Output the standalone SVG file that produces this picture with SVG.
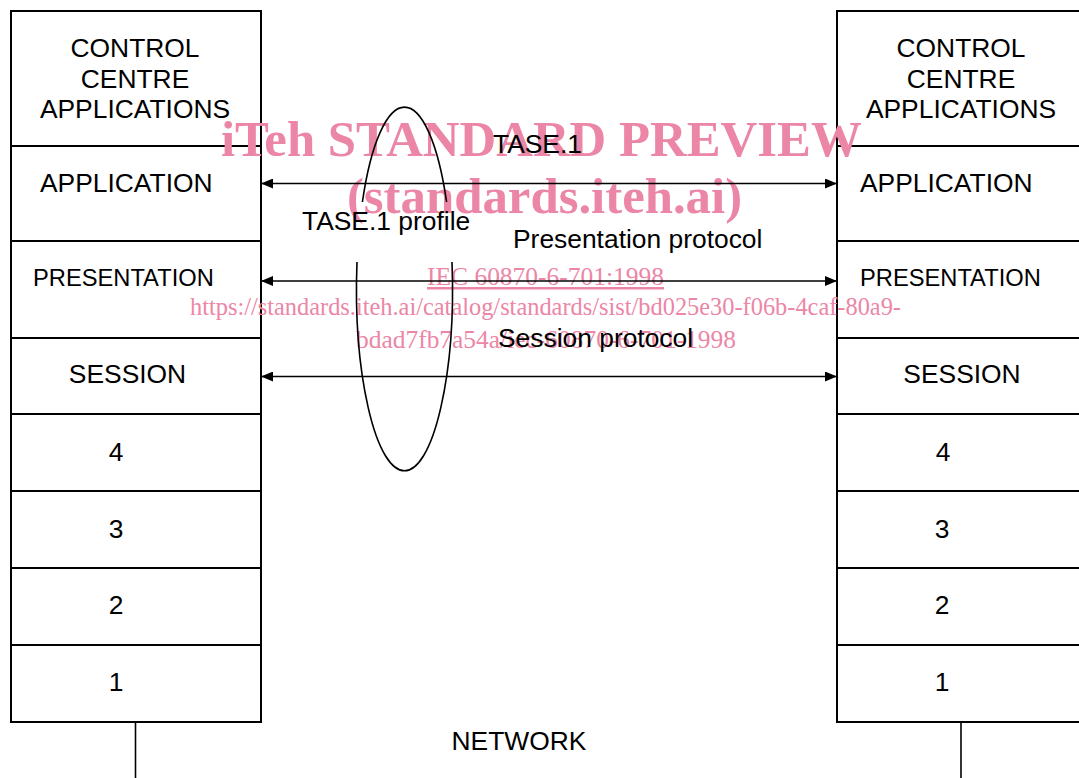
<svg xmlns="http://www.w3.org/2000/svg" width="1079" height="778" viewBox="0 0 1079 778">
<style>
.box{fill:#fff;stroke:#000;stroke-width:2}
.sep{stroke:#000;stroke-width:2}
.t{font-family:"Liberation Sans",Arial,sans-serif;font-size:26.4px;fill:#000}
.c{text-anchor:middle}
.wm{font-family:"Liberation Serif","Times New Roman",serif;fill:#ec86a6}
.wb{font-weight:bold;font-size:50.8px}
.ws{font-size:24.5px}
.conn{stroke:#000;stroke-width:1.6;fill:none}
</style>
<defs>
<marker id="ah" viewBox="0 0 12 10" refX="12" refY="5" markerWidth="12" markerHeight="10" markerUnits="userSpaceOnUse" orient="auto-start-reverse">
<path d="M0,0 L12,5 L0,10 z" fill="#000"/>
</marker>
</defs>
<rect width="1079" height="778" fill="#fff"/>

<g id="left-stack">
<rect class="box" x="11" y="11" width="250" height="711"/>
<line class="sep" x1="11" y1="146" x2="261" y2="146"/>
<line class="sep" x1="11" y1="241" x2="261" y2="241"/>
<line class="sep" x1="11" y1="338" x2="261" y2="338"/>
<line class="sep" x1="11" y1="414" x2="261" y2="414"/>
<line class="sep" x1="11" y1="491" x2="261" y2="491"/>
<line class="sep" x1="11" y1="568" x2="261" y2="568"/>
<line class="sep" x1="11" y1="645" x2="261" y2="645"/>
<line class="conn" x1="135.5" y1="722" x2="135.5" y2="778"/>
</g>
<g id="left-cca"><text class="t c" x="135" y="57">CONTROL</text><text class="t c" x="135" y="88">CENTRE</text><text class="t c" x="135" y="118">APPLICATIONS</text></g>
<g id="left-application"><text class="t" x="40" y="192">APPLICATION</text></g>
<g id="left-presentation"><text class="t" x="33" y="286" style="font-size:23.7px">PRESENTATION</text></g>
<g id="left-session"><text class="t c" x="127.5" y="383">SESSION</text></g>
<g id="left-4"><text class="t c" x="116" y="461">4</text></g>
<g id="left-3"><text class="t c" x="116" y="538">3</text></g>
<g id="left-2"><text class="t c" x="116" y="614">2</text></g>
<g id="left-1"><text class="t c" x="116" y="691">1</text></g>

<g id="right-stack">
<rect class="box" x="837" y="11" width="250" height="711"/>
<line class="sep" x1="837" y1="146" x2="1087" y2="146"/>
<line class="sep" x1="837" y1="241" x2="1087" y2="241"/>
<line class="sep" x1="837" y1="338" x2="1087" y2="338"/>
<line class="sep" x1="837" y1="414" x2="1087" y2="414"/>
<line class="sep" x1="837" y1="491" x2="1087" y2="491"/>
<line class="sep" x1="837" y1="568" x2="1087" y2="568"/>
<line class="sep" x1="837" y1="645" x2="1087" y2="645"/>
<line class="conn" x1="961" y1="722" x2="961" y2="778"/>
</g>
<g id="right-cca"><text class="t c" x="961" y="57">CONTROL</text><text class="t c" x="961" y="88">CENTRE</text><text class="t c" x="961" y="118">APPLICATIONS</text></g>
<g id="right-application"><text class="t" x="860" y="192">APPLICATION</text></g>
<g id="right-presentation"><text class="t" x="860" y="286" style="font-size:23.7px">PRESENTATION</text></g>
<g id="right-session"><text class="t c" x="962" y="383">SESSION</text></g>
<g id="right-4"><text class="t c" x="943" y="461">4</text></g>
<g id="right-3"><text class="t c" x="942" y="538">3</text></g>
<g id="right-2"><text class="t c" x="942" y="614">2</text></g>
<g id="right-1"><text class="t c" x="942" y="691">1</text></g>

<g id="watermark">
<text class="wm wb" x="221" y="156">iTeh STANDARD PREVIEW</text>
<text class="wm wb" x="544.5" y="213" text-anchor="middle">(standards.iteh.ai)</text>
<text class="wm" x="427" y="285" style="font-size:25px;text-decoration:underline" textLength="237" lengthAdjust="spacingAndGlyphs">IEC 60870-6-701:1998</text>
<text class="wm ws" x="190" y="315" textLength="711" lengthAdjust="spacingAndGlyphs">https://standards.iteh.ai/catalog/standards/sist/bd025e30-f06b-4caf-80a9-</text>
<text class="wm ws" x="356" y="348" textLength="380" lengthAdjust="spacingAndGlyphs">bdad7fb7a54a/iec-60870-6-701-1998</text>
</g>

<g id="connectors">
<line class="conn" x1="261" y1="183.5" x2="837" y2="183.5" marker-start="url(#ah)" marker-end="url(#ah)"/>
<line class="conn" x1="261" y1="281" x2="837" y2="281" marker-start="url(#ah)" marker-end="url(#ah)"/>
<line class="conn" x1="261" y1="376.5" x2="837" y2="376.5" marker-start="url(#ah)" marker-end="url(#ah)"/>
</g>

<g id="profile-ellipse">
<path class="conn" d="M362.4,202 A48,182.5 0 0 1 446.6,202"/>
<path class="conn" d="M452,262 A48,182.5 0 1 1 357,262"/>
</g>

<g id="labels">
<text class="t" x="493" y="153">TASE.1</text>
<text class="t" x="302" y="230">TASE.1 profile</text>
<text class="t" x="513" y="248">Presentation protocol</text>
<text class="t" x="498" y="347">Session protocol</text>
<text class="t c" x="519" y="750">NETWORK</text>
</g>
</svg>
